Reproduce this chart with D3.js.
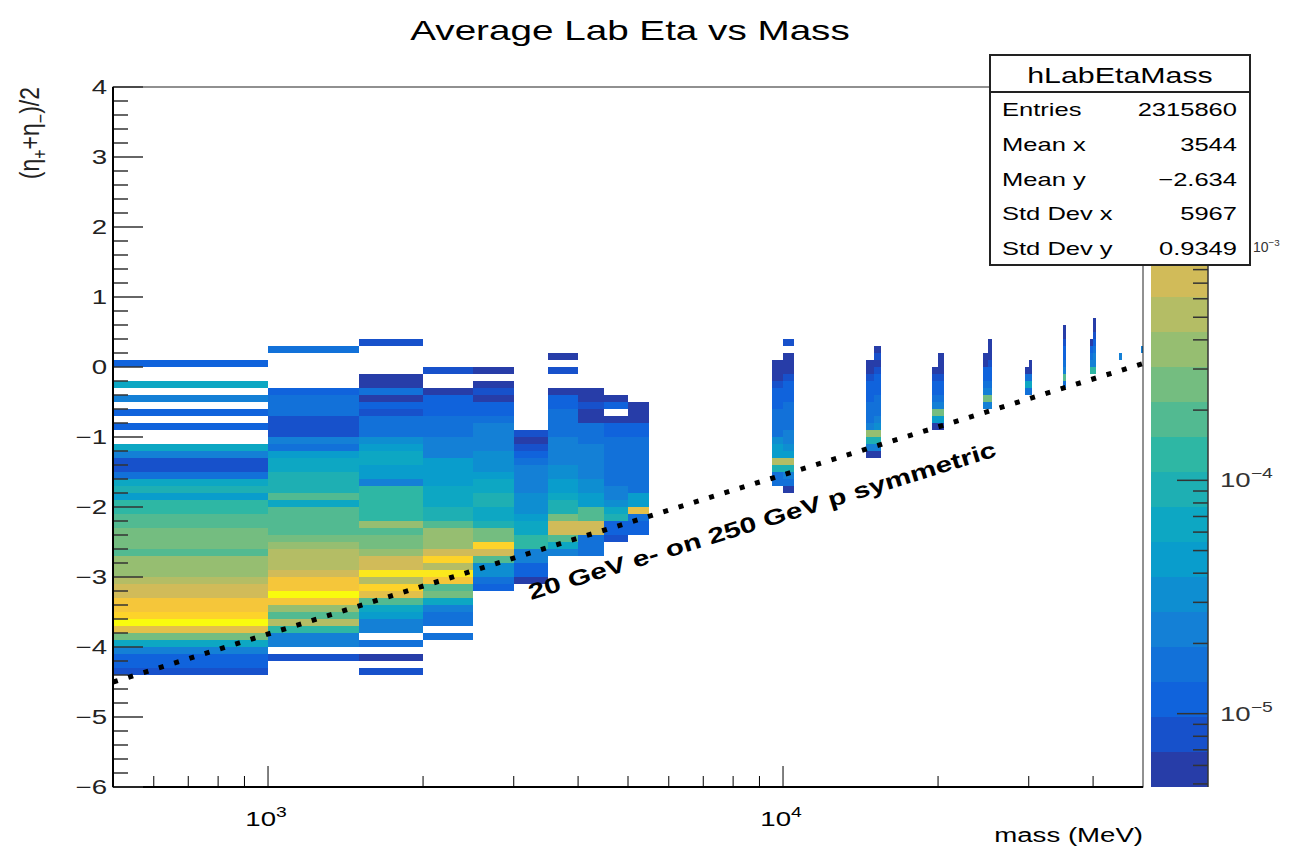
<!DOCTYPE html>
<html><head><meta charset="utf-8">
<script src="https://cdn.jsdelivr.net/npm/d3@7"></script>
<style>body{margin:0;background:#fff}svg{display:block}</style>
</head><body>
<svg id="c" width="1290" height="851"></svg>
<script>
// ---------------- data ----------------
const chartTitle = "Average Lab Eta vs Mass";
const xTitle = "mass (MeV)";
const xDomain = [500, 50000];
const yDomain = [-6, 4];
const massBinWidth = 500;
const etaBinWidth = 0.1;
const zDomain = [4.85e-6, 4.85e-3];
const zUnit = 1e-5;          // cell values below are in units of 1e-5
const nContours = 20;
const xMajorTicks = [1000, 10000];
const xTickExponents = ["3", "4"];
const yMajorTicks = [-6, -5, -4, -3, -2, -1, 0, 1, 2, 3, 4];
const zMajorTicks = [1e-3, 1e-4, 1e-5];
const zTickExponents = ["\u22123", "\u22124", "\u22125"];
const statsTitle = "hLabEtaMass";
const statsLabels = ["Entries", "Mean x", "Mean y", "Std Dev x", "Std Dev y"];
const statsValues = ["2315860", "3544", "\u22122.634", "5967", "0.9349"];
const refLineMass = [500, 50000];
const refLineEta = [-4.5, 0.05];
const refLabel = "20 GeV e- on 250 GeV p symmetric";
const refLabelAt = [3240, -3.33];

// lower mass edge of each populated column, top eta edge of its first row,
// and the bin contents (rows of 0.1 in eta going downward; 0 = empty)
const columnMass = [500, 1000, 1500, 2000, 2500, 3000, 3500, 4000, 4500, 5000,
  9500, 10000, 14500, 15000, 19500, 20000, 24500, 25000, 29500, 30000,
  35000, 39500, 40000, 45000, 49500];
const columnEtaTop = [0.1, 0.3, 0.4, 0.0, 0.0, -0.9, 0.2, -0.3, -0.4, -0.5,
  0.1, 0.4, 0.1, 0.3, 0.0, 0.2, 0.2, 0.4, 0.0, 0.1,
  0.6, 0.4, 0.7, 0.2, 0.3];
const columnValues = [
  [1.2,0,0,6.5,0,2.3,0,1.2,0,1.2,0,0,6.5,2.3,0.8,0.8,1.6,6.5,9,4.6,13,13,18,18,26,26,26,18,36,36,36,51,73,73,145,145,205,420,100,26,6.5,2.3,1.2,1.2,0.8],
  [1.6,0,0,0,0,0,1.2,1.6,1.6,1.6,0.8,0.8,0.8,2.3,1.6,4.6,6.5,6.5,9,9,9,18,6.5,18,18,18,18,26,36,51,51,51,73,145,145,420,145,36,18,51,13,2.3,2.3,0,0.8],
  [0.8,0,0,0,0,0.6,0.6,1.6,0.6,1.2,0.8,1.6,1.6,1.6,3.2,4.6,6.5,6.5,4.6,4.6,2.3,13,13,13,13,13,36,18,26,26,36,73,73,290,51,205,100,18,6.5,4.6,2.3,2.3,0,1.6,0,0.6,0,0.8],
  [0.8,0,0,0.6,1.2,1.2,1.2,1.6,1.6,1.6,2.3,2.3,2.3,4.6,4.6,4.6,4.6,6.5,6.5,6.5,9,9,18,36,36,36,73,205,51,290,145,18,26,6.5,2.3,1.6,1.6,0,1.6],
  [0.6,0,0.6,0.8,0.6,1.2,1.2,1.6,2.3,2.3,2.3,2.3,3.2,3.2,3.2,4.6,6.5,6.5,9,9,6.5,6.5,9,26,26,205,73,18,3.2,3.2,1.6,1.2],
  [0.8,0.6,0.8,1.2,1.6,2.3,2.3,2.3,2.3,3.2,3.2,3.2,4.6,6.5,6.5,13,13,2.3,2.3,1.2,1.2,0.6],
  [0.6,0,0.8,0,0,0.6,1.2,1.2,1.6,1.6,1.6,1.6,2.3,2.3,2.3,2.3,3.2,3.2,4.6,4.6,6.5,9,9,26,73,73,18,6.5,2.3],
  [0.6,0.6,0.8,0.6,0.6,1.6,1.6,1.6,2.3,2.3,2.3,2.3,2.3,3.2,3.2,4.6,4.6,18,18,73,73,1.6,1.6,1.6],
  [0.6,1.2,0,0.6,1.2,1.2,1.6,1.6,1.6,1.6,1.6,1.6,1.6,2.3,2.3,3.2,6.5,9,1.2,1.2,0.8],
  [0.6,0.6,0.6,1.2,1.2,1.6,1.6,1.6,1.6,1.6,1.6,1.6,1.6,4.6,4.6,100,1.6,1.2,1.2],
  [0.6,0.6,0.6,0.8,1.2,1.2,1.2,1.6,1.6,1.6,1.6,3.2,4.6,4.6,51,9,1.6,1.6],
  [0.8,0,0.6,0.6,0.6,0.8,1.2,1.2,1.2,1.6,1.6,1.6,1.6,2.3,2.3,3.2,4.6,51,9,2.3,1.6,0.6],
  [0.6,0.6,0.8,1.2,1.2,1.2,1.6,1.6,1.6,2.3,36,9,2.3,0.6],
  [0.6,0.8,0.6,0.8,1.2,1.2,1.2,1.6,1.6,1.6,2.3,3.2,36,9,2.3,0.6],
  [0.6,0.8,1.2,1.2,1.6,2.3,26,4.6,0.6],
  [0.6,0.6,0.6,0.8,1.2,1.2,1.6,2.3,26,4.6,0.6],
  [0.6,0.6,1.2,1.2,1.6,2.3,26,2.3],
  [0.6,0.6,0.6,0.8,1.2,1.2,1.6,2.3,26,2.3],
  [0.6,1.6,6.5,1.6],
  [0.6,0.6,1.6,6.5,1.6],
  [0.6,0.6,0.8,1.2,1.2,1.6,2.3,18,1.6],
  [0.6,1.2,1.6,2.3,13],
  [0.6,0.6,0.8,1.2,1.6,2.3,2.3,13],
  [2.3],
  [2.3]
];

// ---------------- drawing ----------------
const SX = 1.38;   // horizontal stretch of all text in the reference
const FONT = "'Liberation Sans', Arial, Helvetica, sans-serif";
const svg = d3.select("#c");
const frame = {l: 113, r: 1143, t: 87, b: 787};
const x = d3.scaleLog().domain(xDomain).range([frame.l, frame.r]);
const y = d3.scaleLinear().domain(yDomain).range([frame.b, frame.t]);
const zScale = d3.scaleLog().domain(zDomain).range([frame.b, frame.t]);

// ROOT kBird palette
const birdStops = [0.0, 0.125, 0.25, 0.375, 0.5, 0.625, 0.75, 0.875, 1.0];
const birdR = [0.2082, 0.0592, 0.0780, 0.0232, 0.1802, 0.5301, 0.8186, 0.9956, 0.9764];
const birdG = [0.1664, 0.3599, 0.5041, 0.6419, 0.7178, 0.7492, 0.7328, 0.7862, 0.9832];
const birdB = [0.5293, 0.8684, 0.8385, 0.7914, 0.6425, 0.4662, 0.3499, 0.1968, 0.0539];
const birdInterp = d3.scaleLinear().domain(birdStops)
  .range(birdStops.map((s, i) => d3.rgb(birdR[i]*255, birdG[i]*255, birdB[i]*255)))
  .interpolate(d3.interpolateRgb).clamp(true);
function bandColor(k) {
  const idx = Math.floor((k + 0.99) * 255 / nContours);
  return birdInterp(Math.min(idx, 254) / 254);
}
const lz0 = Math.log10(zDomain[0]), lz1 = Math.log10(zDomain[1]);
function bandOf(v) {
  const t = (Math.log10(v) - lz0) / (lz1 - lz0);
  return Math.max(0, Math.min(nContours - 1, Math.floor(0.01 + t * nContours)));
}

// text helper with horizontal stretch
function label(parent, px, py, parts, o = {}) {
  const size = o.size || 20;
  const g = parent.append("g")
    .attr("transform", `translate(${px},${py})${o.rotate ? ` rotate(${o.rotate})` : ""} scale(${o.sx || SX},1)${o.rot90 ? " rotate(-90)" : ""}`);
  const t = g.append("text")
    .attr("font-family", FONT).attr("font-size", size)
    .attr("font-weight", o.weight || "normal")
    .attr("fill", o.fill || "#000")
    .attr("text-anchor", o.anchor || "start");
  if (typeof parts === "string") parts = [[parts]];
  let shift = 0;
  parts.forEach(([s, kind]) => {
    const ts = t.append("tspan").text(s);
    let target = 0;
    if (kind === "sup") { ts.attr("font-size", size * 0.7); target = -0.45 * size; }
    if (kind === "sub") { ts.attr("font-size", size * 0.7); target = 0.3 * size; }
    if (target !== shift) { ts.attr("dy", target - shift); shift = target; }
  });
  return g;
}

// cells
const cells = [];
columnMass.forEach((m, i) => {
  columnValues[i].forEach((v, r) => {
    if (v > 0) {
      const hi = columnEtaTop[i] - r * etaBinWidth;
      cells.push({m, hi, lo: hi - etaBinWidth, v: v * zUnit});
    }
  });
});
svg.append("g").attr("shape-rendering", "crispEdges")
  .selectAll("rect").data(cells).join("rect")
  .attr("x", d => x(d.m))
  .attr("width", d => x(d.m + massBinWidth) - x(d.m))
  .attr("y", d => y(d.hi))
  .attr("height", d => y(d.lo) - y(d.hi))
  .attr("fill", d => bandColor(bandOf(d.v)));

// frame
svg.append("rect").attr("x", frame.l).attr("y", frame.t)
  .attr("width", frame.r - frame.l).attr("height", frame.b - frame.t)
  .attr("fill", "none").attr("stroke", "#222").attr("stroke-width", 1);

// x axis (ticks pointing up)
const xAll = x.ticks().filter(v => v > xDomain[0] && v < xDomain[1]);
const xMinor = xAll.filter(v => !xMajorTicks.includes(v));
const axG = svg.append("g");
axG.selectAll("line.xmin").data(xMinor).join("line")
  .attr("x1", d => x(d)).attr("x2", d => x(d))
  .attr("y1", frame.b).attr("y2", frame.b - 11)
  .attr("stroke", "#000").attr("stroke-width", 1);
axG.selectAll("line.xmaj").data(xMajorTicks).join("line")
  .attr("x1", d => x(d)).attr("x2", d => x(d))
  .attr("y1", frame.b).attr("y2", frame.b - 21)
  .attr("stroke", "#000").attr("stroke-width", 1);
axG.append("line").attr("x1", frame.l).attr("x2", frame.r)
  .attr("y1", frame.b).attr("y2", frame.b).attr("stroke", "#000").attr("stroke-width", 2);
xMajorTicks.forEach((v, i) => {
  label(svg, x(v) - 2, 826, [["10"], [xTickExponents[i], "sup"]], {size: 20, anchor: "middle"});
});
label(svg, frame.r, 842, xTitle, {size: 20, anchor: "end"});

// y axis (ticks pointing right)
const yMinor = d3.range(yDomain[0], yDomain[1] + 1e-9, 0.2)
  .filter(v => Math.abs(v - Math.round(v)) > 1e-6);
axG.selectAll("line.ymin").data(yMinor).join("line")
  .attr("x1", frame.l).attr("x2", frame.l + 15)
  .attr("y1", d => y(d)).attr("y2", d => y(d))
  .attr("stroke", "#333").attr("stroke-width", 1.5);
axG.selectAll("line.ymaj").data(yMajorTicks).join("line")
  .attr("x1", frame.l).attr("x2", frame.l + 30)
  .attr("y1", d => y(d)).attr("y2", d => y(d))
  .attr("stroke", "#333").attr("stroke-width", 1.5);
axG.append("line").attr("x1", frame.l).attr("x2", frame.l)
  .attr("y1", frame.t).attr("y2", frame.b).attr("stroke", "#000").attr("stroke-width", 2);
yMajorTicks.forEach(v => {
  label(svg, 107, y(v) + 7, v < 0 ? "\u2212" + Math.abs(v) : String(v), {size: 20, anchor: "end", fill: "#222"});
});
label(svg, 39, frame.t, [["(\u03b7"], ["+", "sub"], ["+\u03b7"], ["\u2212", "sub"], [")/2"]],
  {size: 23, anchor: "end", rot90: true, sx: 1.2, fill: "#222"});

// title
label(svg, 630, 40, chartTitle, {size: 28, anchor: "middle"});

// colour bar
const cb = {l: 1151, r: 1208};
const cbG = svg.append("g");
cbG.selectAll("rect").data(d3.range(nContours)).join("rect")
  .attr("shape-rendering", "crispEdges")
  .attr("x", cb.l).attr("width", cb.r - cb.l)
  .attr("y", k => zScale(Math.pow(10, lz0 + (k + 1) * (lz1 - lz0) / nContours)))
  .attr("height", k => zScale(Math.pow(10, lz0 + k * (lz1 - lz0) / nContours)) -
                        zScale(Math.pow(10, lz0 + (k + 1) * (lz1 - lz0) / nContours)))
  .attr("fill", k => bandColor(k));
const zAll = zScale.ticks().filter(v => v > zDomain[0] && v < zDomain[1]);
const zMinor = zAll.filter(v => !zMajorTicks.some(t => Math.abs(t - v) / t < 1e-6));
cbG.selectAll("line.zmin").data(zMinor).join("line")
  .attr("x1", cb.r).attr("x2", cb.r - 15)
  .attr("y1", d => zScale(d)).attr("y2", d => zScale(d))
  .attr("stroke", "#333").attr("stroke-width", 1.5);
cbG.selectAll("line.zmaj").data(zMajorTicks).join("line")
  .attr("x1", cb.r).attr("x2", cb.r - 31)
  .attr("y1", d => zScale(d)).attr("y2", d => zScale(d))
  .attr("stroke", "#333").attr("stroke-width", 1.5);
cbG.append("line").attr("x1", cb.r).attr("x2", cb.r)
  .attr("y1", frame.t).attr("y2", frame.b).attr("stroke", "#333").attr("stroke-width", 1.5);

// stats box geometry
const sb = {l: 990, r: 1250, t: 55, b: 265, head: 92};
zMajorTicks.forEach((v, i) => {
  const underBox = zScale(v) < sb.b;
  if (underBox) {
    // the 10^-3 label sits beside the stats box, in a smaller size
    label(svg, sb.r + 3, zScale(v) + 5, [["10"], [zTickExponents[i], "sup"]], {size: 14, fill: "#333", sx: 1});
  } else {
    label(svg, 1220, zScale(v) + 7, [["10"], [zTickExponents[i], "sup"]], {size: 20, fill: "#333"});
  }
});

// reference line
const refPts = refLineMass.map((m, i) => [x(m), y(refLineEta[i])]);
svg.append("path").attr("d", d3.line()(refPts))
  .attr("fill", "none").attr("stroke", "#000").attr("stroke-width", 5)
  .attr("stroke-dasharray", "5,11");
const ang = Math.atan2(refPts[1][1] - refPts[0][1], refPts[1][0] - refPts[0][0]) * 180 / Math.PI;
label(svg, x(refLabelAt[0]), y(refLabelAt[1]), refLabel,
  {size: 22, weight: "bold", rotate: ang, sx: 1.35});

// stats box
svg.append("rect").attr("x", sb.l).attr("y", sb.t)
  .attr("width", sb.r - sb.l).attr("height", sb.b - sb.t)
  .attr("fill", "#fff").attr("stroke", "#222").attr("stroke-width", 2);
svg.append("line").attr("x1", sb.l).attr("x2", sb.r)
  .attr("y1", sb.head).attr("y2", sb.head).attr("stroke", "#222").attr("stroke-width", 2);
label(svg, (sb.l + sb.r) / 2, 83, statsTitle, {size: 22, anchor: "middle"});
const rowH = (sb.b - sb.head) / statsLabels.length;
statsLabels.forEach((s, i) => {
  const by = sb.head + rowH * (i + 0.5) + 7;
  label(svg, 1002, by, s, {size: 18.5});
  label(svg, 1237, by, statsValues[i], {size: 18.5, anchor: "end"});
});
</script>
</body></html>
